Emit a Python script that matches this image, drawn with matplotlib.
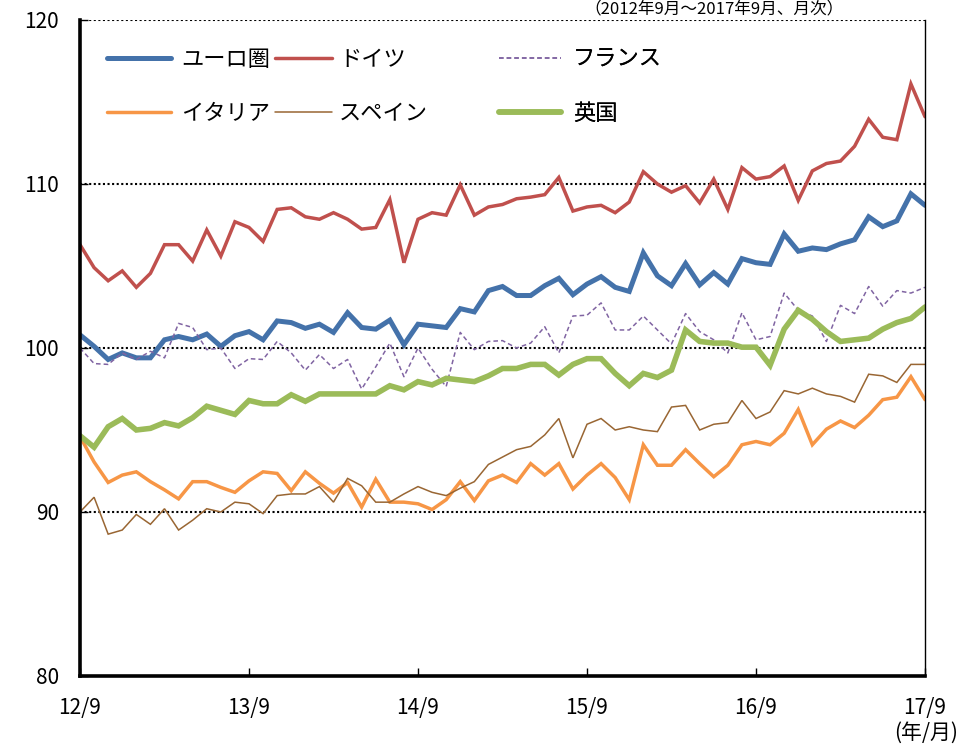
import numpy as np
import matplotlib
matplotlib.use("Agg")
import matplotlib.pyplot as plt

plt.rcParams['font.family'] = ['Noto Sans CJK JP', 'DejaVu Sans']

# ---- data (monthly, 2012/9 - 2017/9) ----
tick_labels = ["12/9", "13/9", "14/9", "15/9", "16/9", "17/9"]
series_names = ["ユーロ圏", "ドイツ", "フランス", "イタリア", "スペイン", "英国"]

euro = [100.8, 100.1, 99.3, 99.7, 99.4, 99.4, 100.5, 100.7, 100.5, 100.85, 100.1, 100.75, 101.0,
        100.5, 101.65, 101.55, 101.2, 101.45, 100.95, 102.15, 101.25, 101.15, 101.7, 100.2, 101.45,
        101.35, 101.25, 102.4, 102.2, 103.5, 103.75, 103.2, 103.2, 103.8, 104.25, 103.25, 103.9,
        104.35, 103.7, 103.45, 105.8, 104.4, 103.8, 105.15, 103.85, 104.6, 103.9, 105.45, 105.2,
        105.1, 106.95, 105.9, 106.1, 106.0, 106.35, 106.6, 108.0, 107.4, 107.75, 109.4, 108.7]
germany = [106.3, 104.9, 104.1, 104.7, 103.7, 104.55, 106.3, 106.3, 105.3, 107.2, 105.6, 107.7, 107.35,
           106.5, 108.45, 108.55, 108.0, 107.85, 108.25, 107.85, 107.25, 107.35, 109.05, 105.2, 107.85,
           108.25, 108.1, 109.95, 108.1, 108.6, 108.75, 109.1, 109.2, 109.35, 110.4, 108.35, 108.6,
           108.7, 108.25, 108.9, 110.75, 110.0, 109.5, 109.9, 108.85, 110.3, 108.45, 111.0, 110.3,
           110.45, 111.1, 109.0, 110.8, 111.25, 111.4, 112.3, 113.95, 112.85, 112.7, 116.1, 114.1]
france = [100.0, 99.05, 99.0, 99.7, 99.3, 99.8, 99.4, 101.5, 101.25, 99.9, 100.0, 98.75, 99.35,
          99.3, 100.4, 99.7, 98.65, 99.6, 98.75, 99.3, 97.5, 98.85, 100.3, 98.25, 100.0,
          98.7, 97.65, 100.95, 99.9, 100.4, 100.45, 100.0, 100.3, 101.3, 99.7, 101.95, 102.0,
          102.75, 101.1, 101.1, 101.95, 101.1, 100.25, 102.1, 101.0, 100.5, 99.7, 102.15, 100.5,
          100.7, 103.35, 102.3, 101.95, 100.4, 102.6, 102.1, 103.75, 102.55, 103.5, 103.35, 103.7]
italy = [94.6, 93.05, 91.8, 92.25, 92.45, 91.85, 91.35, 90.8, 91.85, 91.85, 91.5, 91.2, 91.9,
         92.45, 92.35, 91.3, 92.45, 91.75, 91.15, 91.8, 90.3, 92.0, 90.6, 90.6, 90.5,
         90.15, 90.75, 91.85, 90.7, 91.9, 92.25, 91.8, 92.95, 92.25, 92.95, 91.4, 92.25,
         92.95, 92.1, 90.75, 94.1, 92.85, 92.85, 93.8, 92.95, 92.15, 92.85, 94.1, 94.3,
         94.1, 94.8, 96.25, 94.1, 95.05, 95.55, 95.15, 95.9, 96.85, 97.0, 98.25, 96.85]
spain = [90.0, 90.9, 88.65, 88.9, 89.85, 89.25, 90.2, 88.9, 89.5, 90.2, 90.0, 90.6, 90.5,
         89.9, 91.0, 91.1, 91.1, 91.55, 90.6, 92.05, 91.6, 90.6, 90.6, 91.1, 91.55,
         91.2, 91.0, 91.45, 91.85, 92.9, 93.35, 93.8, 94.0, 94.7, 95.7, 93.3, 95.35,
         95.7, 95.0, 95.2, 95.0, 94.9, 96.4, 96.5, 95.0, 95.35, 95.45, 96.8, 95.7,
         96.1, 97.4, 97.2, 97.55, 97.2, 97.05, 96.7, 98.4, 98.3, 97.9, 99.0, 99.0]
uk = [94.65, 93.95, 95.2, 95.7, 95.0, 95.1, 95.45, 95.25, 95.75, 96.45, 96.2, 95.95, 96.8,
      96.6, 96.6, 97.15, 96.75, 97.2, 97.2, 97.2, 97.2, 97.2, 97.7, 97.45, 97.95,
      97.75, 98.15, 98.05, 97.95, 98.3, 98.75, 98.75, 99.0, 99.0, 98.35, 99.0, 99.35,
      99.35, 98.45, 97.7, 98.45, 98.2, 98.65, 101.1, 100.4, 100.3, 100.3, 100.05, 100.05,
      98.95, 101.15, 102.3, 101.75, 101.0, 100.4, 100.5, 100.6, 101.15, 101.55, 101.8, 102.5]

months = np.arange(len(euro))

colors = ["#4472AA", "#C0504D", "#8064A2", "#F79646", "#996633", "#9BBB59"]
widths = [3.6, 2.5, 1.1, 2.5, 1.1, 4.0]
styles = ["-", "-", (0, (3, 2)), "-", "-", "-"]
data = [euro, germany, france, italy, spain, uk]

fig = plt.figure(figsize=(9.71, 7.44), dpi=100)
ax = fig.add_axes([80/971, 1-676/744, 845/971, 656/744])

lines = []
for d, c, w, s, n in zip(data, colors, widths, styles, series_names):
    ln, = ax.plot(months, d, color=c, lw=w, ls=s, label=n, solid_capstyle='round',
                  solid_joinstyle='miter')
    lines.append(ln)

ax.set_xlim(0, 60)
ax.set_ylim(80, 120)
ax.set_xticks(np.arange(0, 61, 12))
ax.set_xticklabels(tick_labels)
ax.set_yticks([80, 90, 100, 110, 120])
for yv in [90, 100, 110, 120]:
    ax.axhline(yv, color='black', lw=1.5, ls=(0, (1, 1.2)), zorder=0)

ax.spines['top'].set_visible(False)
ax.spines['left'].set_linewidth(2.6)
ax.spines['bottom'].set_linewidth(2.6)
ax.spines['right'].set_linewidth(1.0)
ax.tick_params(axis='x', direction='in', length=6, width=1, pad=15, labelsize=15)
ax.tick_params(axis='y', direction='in', length=6, width=1, pad=15, labelsize=15)

# legend: three columns, each its own legend
cols = [(0, 3), (1, 4), (2, 5)]
col_x = [110, 278, 502]
hl = [2.9, 2.6, 2.8]
htp = [0.45, 0.3, 0.55]
for k, (a, b) in enumerate(cols):
    x_ax = (col_x[k] - 80) / 845
    leg = ax.legend([lines[a], lines[b]], [series_names[a], series_names[b]],
                    loc='upper left', bbox_to_anchor=(x_ax - 0.004, 1 - 28/656),
                    frameon=False, fontsize=16, handlelength=hl[k], handletextpad=htp[k],
                    labelspacing=1.4, borderpad=0, borderaxespad=0)
    ax.add_artist(leg)

fig.text(0.735, 1.0, "（2012年9月～2017年9月、月次）", ha='center', va='top', fontsize=12)
fig.text(926/971, 1 - 733/744, "(年/月)", ha='center', va='center', fontsize=15)

fig.savefig("out.png", dpi=100)
